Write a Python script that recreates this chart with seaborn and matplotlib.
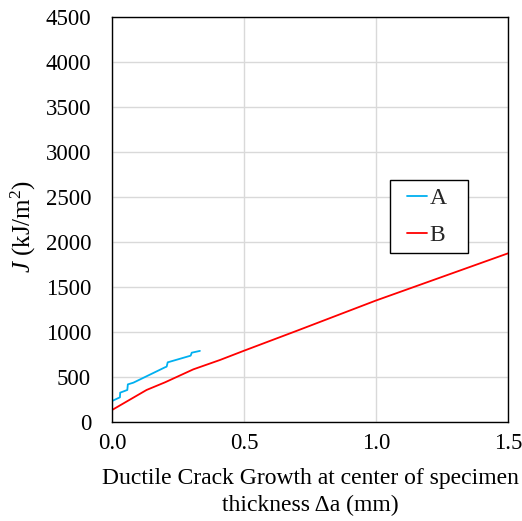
import matplotlib
matplotlib.use("Agg")
import matplotlib.pyplot as plt
from matplotlib.patches import Rectangle
import seaborn as sns
import pandas as pd

# Data
a_x = [0.0, 0.030, 0.031, 0.058, 0.060, 0.081, 0.201, 0.207, 0.211, 0.298, 0.302, 0.333]
a_y = [233, 274, 326, 356, 418, 437, 608, 615, 663, 737, 770, 790]
b_x = [0.0, 0.0, 0.131, 0.201, 0.308, 0.409, 0.5, 0.706, 1.0, 1.148, 1.5]
b_y = [0, 133, 356, 441, 585, 689, 792, 1020, 1350, 1505, 1874]
series_names = ["A", "B"]
series_colors = ["#00b0f0", "#ff0000"]
x_ticks = [0.0, 0.5, 1.0, 1.5]
y_ticks = list(range(0, 4501, 500))

df = pd.concat([
    pd.DataFrame({"x": a_x, "y": a_y, "series": "A"}),
    pd.DataFrame({"x": b_x, "y": b_y, "series": "B"}),
], ignore_index=True)

sns.set_style("white")
plt.rcParams["font.family"] = ["Liberation Serif", "DejaVu Serif"]
plt.rcParams["mathtext.fontset"] = "custom"
plt.rcParams["mathtext.rm"] = "Liberation Serif"
plt.rcParams["mathtext.it"] = "Liberation Serif:italic"

fig = plt.figure(figsize=(5.22, 5.21), dpi=100)
ax = fig.add_axes([112 / 522, 1 - 422 / 521, 396 / 522, 405 / 521])

sns.lineplot(data=df, x="x", y="y", hue="series", hue_order=series_names,
             palette=dict(zip(series_names, series_colors)), sort=False,
             estimator=None, linewidth=1.3, ax=ax)

ax.set_xlim(0, 1.5)
ax.set_ylim(0, 4500)
ax.set_xticks(x_ticks)
ax.set_xticklabels([f"{v:.1f}" for v in x_ticks])
ax.set_yticks(y_ticks)
ax.set_yticklabels([str(v) for v in y_ticks])
ax.grid(True, color="#d9d9d9", linewidth=1.0)
ax.set_axisbelow(True)
for s in ax.spines.values():
    s.set_color("black")
    s.set_linewidth(1.0)
ax.tick_params(axis="both", length=0, labelsize=16.5, colors="black")
ax.tick_params(axis="y", pad=15)
ax.tick_params(axis="x", pad=8)

ax.set_xlabel("Ductile Crack Growth at center of specimen\nthickness \u0394a (mm)",
              fontsize=17, color="black", labelpad=10, linespacing=1.35)
ax.set_ylabel(r"$J$ (kJ/m$^2$)", fontsize=18, color="black")
ax.yaxis.set_label_coords(-0.188, 0.484)

# legend frame drawn separately (wider horizontal padding than vertical)
ax.add_patch(Rectangle((0.702, 0.417), 0.197, 0.180, transform=ax.transAxes,
                       facecolor="white", edgecolor="black", linewidth=1.0,
                       zorder=4, clip_on=False))
leg = ax.legend(loc="center", bbox_to_anchor=(0.795, 0.507), frameon=False,
                fontsize=17, handlelength=0.85, handletextpad=0.1,
                borderpad=0.3, labelspacing=0.65)
leg.set_zorder(5)
for line in leg.get_lines():
    line.set_linewidth(1.3)

fig.savefig("out.png", dpi=100)
